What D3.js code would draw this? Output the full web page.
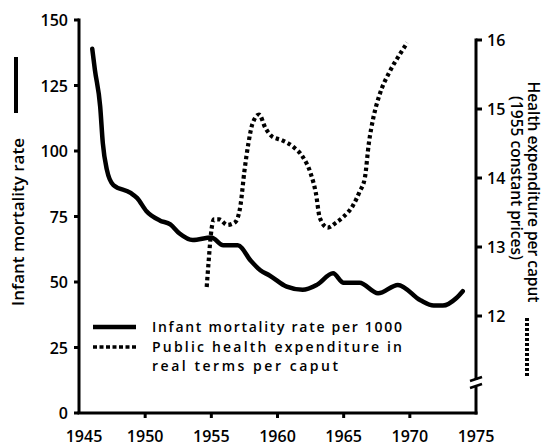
<!DOCTYPE html>
<html><head><meta charset="utf-8">
<script src="https://cdn.jsdelivr.net/npm/d3@7"></script>
<style>body{margin:0;background:#fff}svg{display:block}text{font-family:"Open Sans",sans-serif;font-weight:600;fill:#000}</style>
</head><body>
<svg id="c" width="544" height="447"></svg>
<script>
const mortYears = [1946.0,1946.2,1946.6,1946.8,1947.1,1947.6,1948.9,1949.4,1950.1,1951.1,1951.9,1952.6,1953.6,1955.0,1955.9,1957.0,1958.0,1958.7,1959.4,1960.7,1961.9,1963.0,1964.2,1965.0,1966.2,1967.6,1969.1,1970.8,1971.8,1972.5,1973.5,1974.0];
const mortValues = [139,131,117,103,93,87,84,82,77,73.5,72,68.5,66,67,64,64,58,54.5,52.5,48.2,47,49,53.3,49.7,49.7,45.7,48.9,43,41,41,43.8,46.5];
const expYears = [1954.65,1954.8,1954.95,1955.2,1955.6,1956.2,1956.8,1957.2,1957.5,1957.8,1958.1,1958.6,1959.1,1959.6,1960.3,1961.2,1961.9,1962.5,1962.9,1963.2,1963.8,1964.4,1965.0,1965.7,1966.2,1966.6,1966.9,1967.25,1967.7,1968.5,1969.2,1969.8];
const expValues = [12.42,12.8,13.15,13.4,13.4,13.32,13.36,13.6,14.1,14.5,14.78,14.92,14.72,14.6,14.55,14.45,14.31,14.07,13.78,13.42,13.28,13.35,13.44,13.6,13.8,14.0,14.5,14.88,15.2,15.55,15.78,15.96];
const xTicks = [1945,1950,1955,1960,1965,1970,1975];
const leftTicks = [0,25,50,75,100,125,150];
const rightTicks = [12,13,14,15,16];
const legendLabels = ["Infant mortality rate per 1000","Public health expenditure in","real terms per caput"];
const leftTitle = "Infant mortality rate";
const rightTitle = ["Health expenditure per caput","(1955 constant prices)"];

const svg = d3.select("#c");
const x = d3.scaleLinear().domain([1945,1975]).range([79,476]);
const yL = d3.scaleLinear().domain([0,150]).range([413,20]);
const yR = d3.scaleLinear().domain([12,16]).range([316,40]);

const ax = svg.append("g").attr("stroke","#000").attr("stroke-width",3).attr("fill","none");
// left axis
ax.append("line").attr("x1",79).attr("x2",79).attr("y1",yL(150)-1.5).attr("y2",413);
leftTicks.forEach(t=>ax.append("line").attr("x1",74).attr("x2",79).attr("y1",yL(t)).attr("y2",yL(t)));
// bottom axis
ax.append("line").attr("x1",77.5).attr("x2",477.5).attr("y1",413).attr("y2",413);
xTicks.slice(1,-1).forEach(t=>ax.append("line").attr("x1",x(t)).attr("x2",x(t)).attr("y1",413).attr("y2",418));
// right axis with break
ax.append("line").attr("x1",476).attr("x2",476).attr("y1",yR(16)-1.5).attr("y2",380);
ax.append("line").attr("x1",476).attr("x2",476).attr("y1",387).attr("y2",414.5);
rightTicks.forEach(t=>ax.append("line").attr("x1",476).attr("x2",482).attr("y1",yR(t)).attr("y2",yR(t)));
ax.append("line").attr("x1",470).attr("x2",482).attr("y1",381).attr("y2",377).attr("stroke-width",2.5);
ax.append("line").attr("x1",470).attr("x2",482).attr("y1",388).attr("y2",384).attr("stroke-width",2.5);

// tick labels
const tl = svg.append("g").attr("font-size",16);
xTicks.forEach(t=>tl.append("text").attr("x",x(t)+(t===1945?5:0)).attr("y",442).attr("text-anchor","middle").text(t));
leftTicks.forEach(t=>tl.append("text").attr("x",68).attr("y",yL(t)+6).attr("text-anchor","end").text(t));
rightTicks.forEach(t=>tl.append("text").attr("x",487).attr("y",yR(t)+6).text(t));

// series
const mort = mortYears.map((d,i)=>[d,mortValues[i]]);
const exp = expYears.map((d,i)=>[d,expValues[i]]);
svg.append("path").attr("d",d3.line().x(d=>x(d[0])).y(d=>yL(d[1])).curve(d3.curveMonotoneX)(mort))
  .attr("fill","none").attr("stroke","#000").attr("stroke-width",4.5).attr("stroke-linejoin","round").attr("stroke-linecap","round");
svg.append("path").attr("d",d3.line().x(d=>x(d[0])).y(d=>yR(d[1])).curve(d3.curveMonotoneX)(exp))
  .attr("fill","none").attr("stroke","#000").attr("stroke-width",4.2).attr("stroke-dasharray","3.5,3");

// legend
const lg = svg.append("g").attr("font-size",14);
const legendWidths = [250,250,186];
lg.append("line").attr("x1",93).attr("x2",136).attr("y1",327).attr("y2",327).attr("stroke","#000").attr("stroke-width",4.5);
lg.append("line").attr("x1",93).attr("x2",136).attr("y1",347).attr("y2",347).attr("stroke","#000").attr("stroke-width",3.5).attr("stroke-dasharray","4,2.5");
legendLabels.forEach((s,i)=>lg.append("text").attr("x",152).attr("y",332+i*19.5)
  .attr("textLength",legendWidths[i]).attr("lengthAdjust","spacing").text(s));

// axis titles
svg.append("text").attr("font-size",17).attr("text-anchor","middle")
  .attr("transform","translate(24,222) rotate(-90)").text(leftTitle);
svg.append("line").attr("x1",16).attr("x2",16).attr("y1",57).attr("y2",113).attr("stroke","#000").attr("stroke-width",4);
rightTitle.forEach((s,i)=>svg.append("text").attr("font-size",15.5).attr("text-anchor","middle")
  .attr("transform",`translate(${528-i*17},${i?178:192}) rotate(90)`).text(s));
svg.append("line").attr("x1",527).attr("x2",527).attr("y1",318).attr("y2",376).attr("stroke","#000").attr("stroke-width",4).attr("stroke-dasharray","3,2");
</script>
</body></html>
